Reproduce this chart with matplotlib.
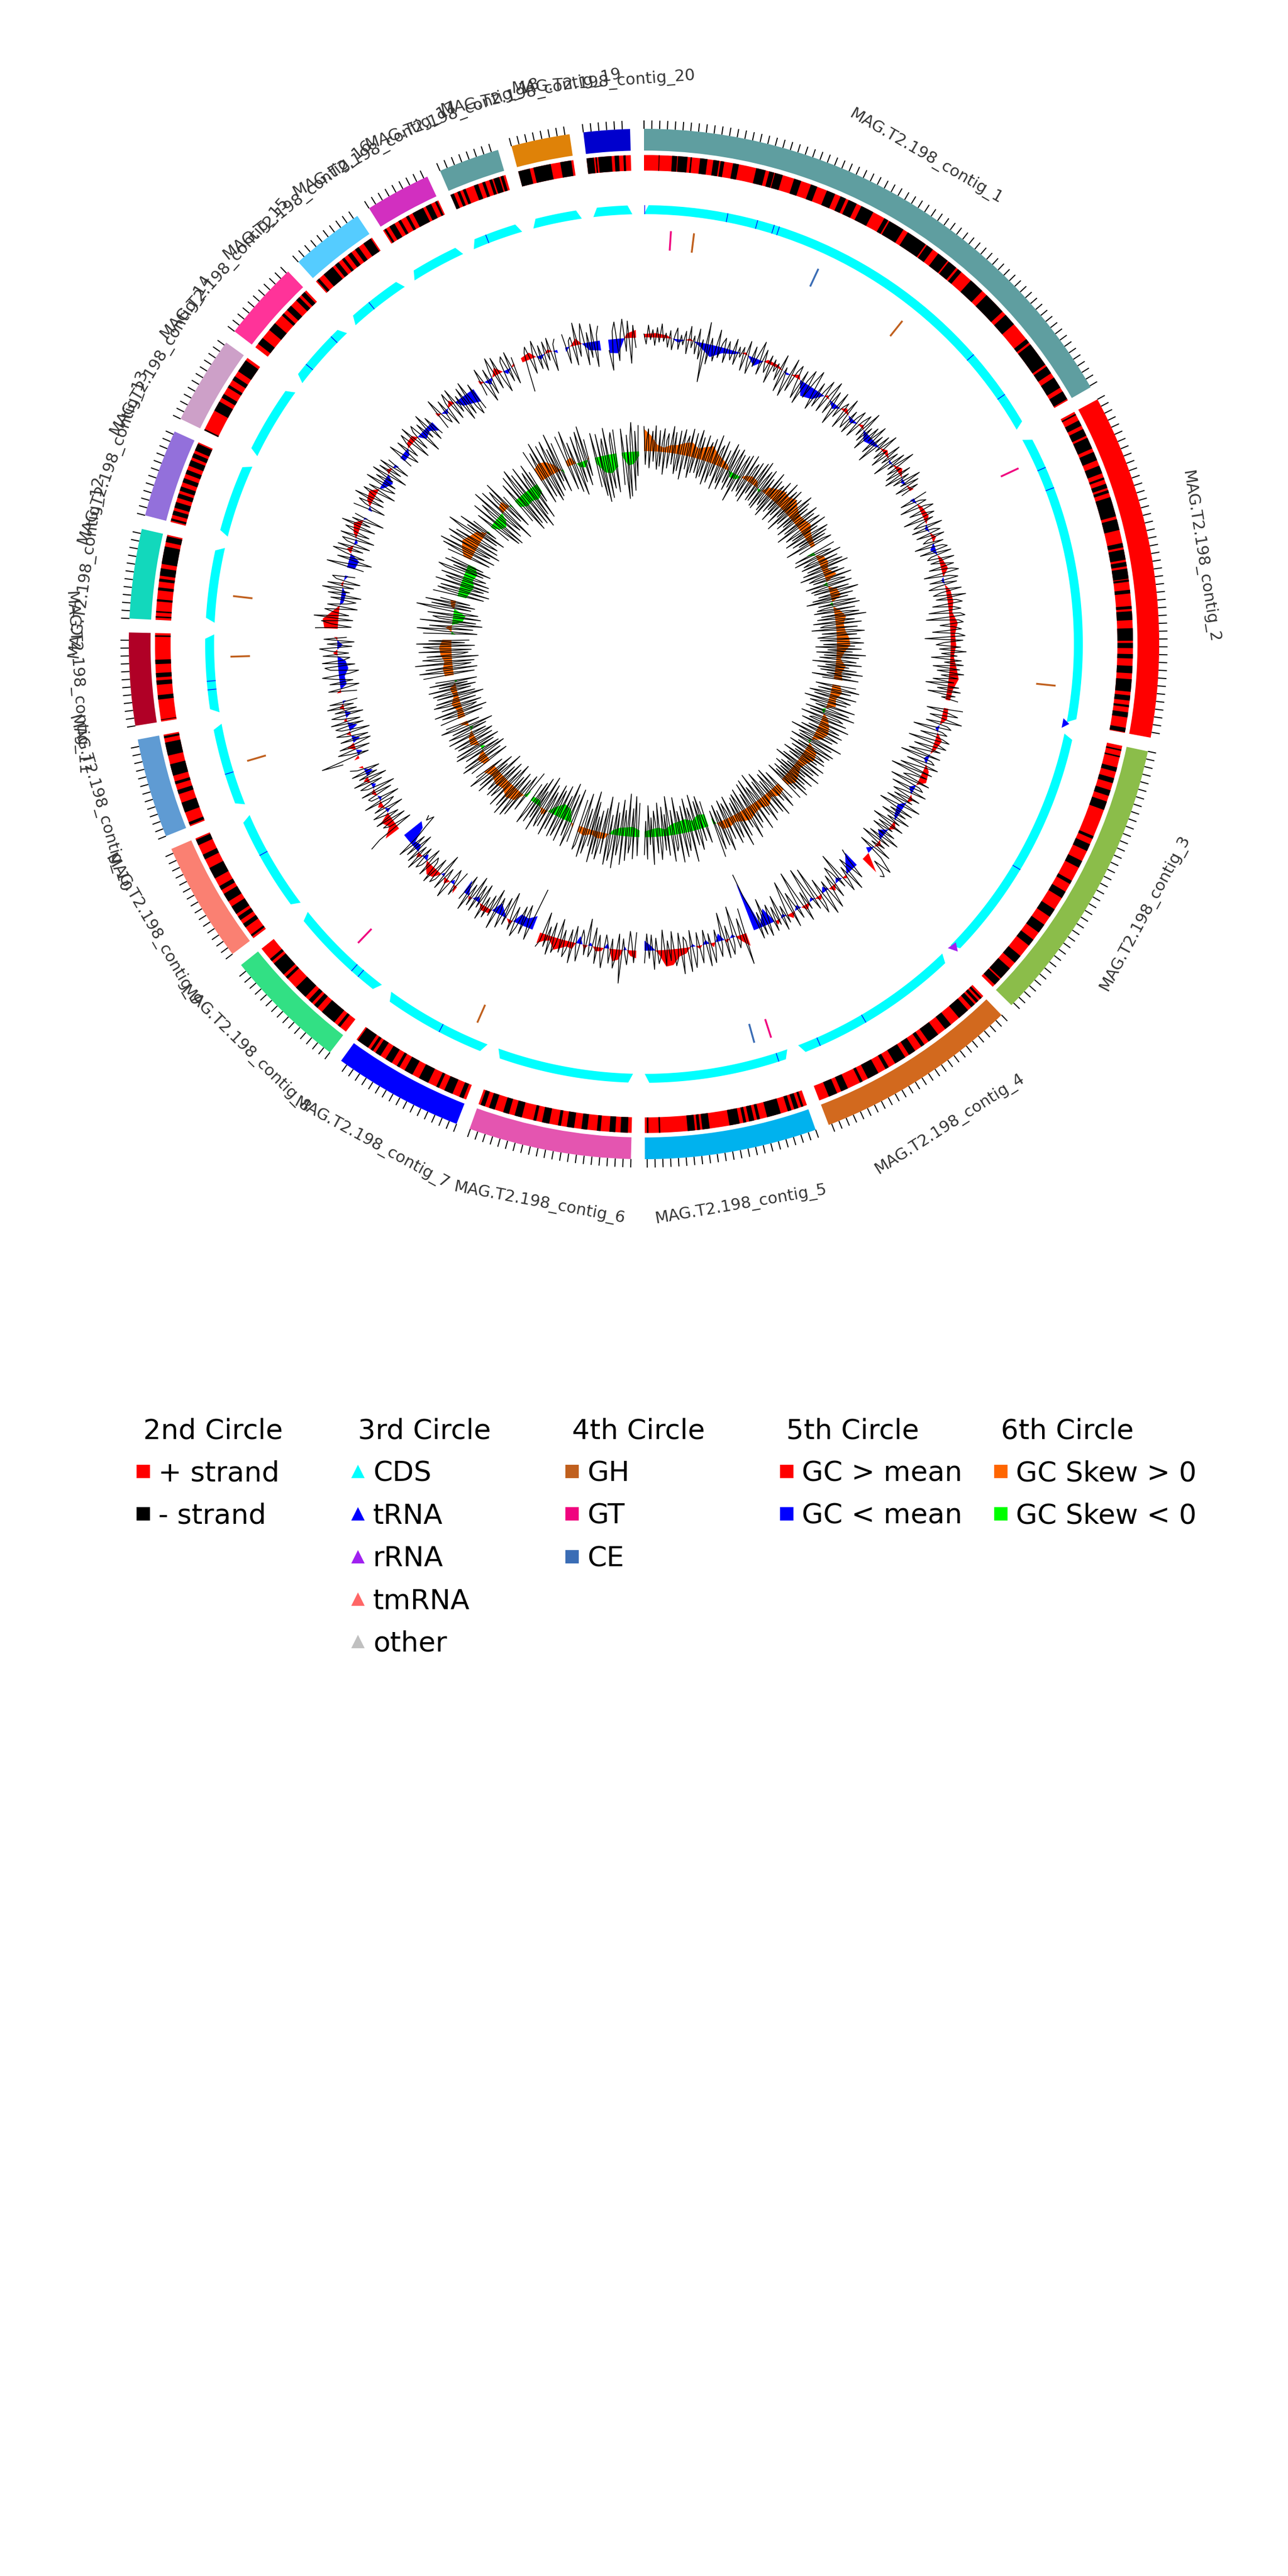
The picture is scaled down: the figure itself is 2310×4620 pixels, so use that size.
import numpy as np
import matplotlib
matplotlib.use('Agg')
import matplotlib.pyplot as plt
from matplotlib.lines import Line2D

# Contigs: length in kb and outer ring colour
contig_names = ['MAG.T2.198_contig_%d' % i for i in range(1, 21)]
contig_kb = [692, 447, 374, 264, 223, 211, 169, 160, 156, 129,
             120, 116, 114, 114, 103, 96, 85, 79, 76, 60]
contig_colors = ['#5F9EA0', '#FF0000', '#8BBD4A', '#D2691E', '#00B2EE', '#E455B0', '#0000FF', '#32E084',
                 '#FA8072', '#5F9BD3', '#B00026', '#12D8BC', '#9370DB', '#CDA0C8', '#FF3399', '#55CCFF',
                 '#D22FC0', '#5F9EA0', '#DF8208', '#0000CD']

# 2nd circle: minus strand genes (start, end in kb) per contig, the rest is + strand
minus_c1 = [(20, 21), (38, 45), (46, 59), (63, 65), (76, 86), (94, 102), (104, 109), (121, 129), (153, 166), (171, 178),
            (179, 190), (206, 216), (230, 239), (253, 265), (273, 281), (285, 297), (304, 322), (339, 345), (347, 369),
            (376, 405), (407, 417), (426, 442), (444, 457), (460, 466), (483, 504), (512, 543), (549, 566), (592, 598),
            (601, 635), (638, 649), (656, 672), (678, 690)]
minus_c2 = [(3, 5), (13, 21), (26, 36), (39, 55), (60, 72), (80, 91), (97, 100), (106, 112), (115, 119), (125, 152),
            (156, 171), (189, 195), (198, 212), (215, 221), (224, 238), (239, 242), (253, 258), (275, 279), (282, 294),
            (305, 322), (325, 332), (340, 346), (356, 366), (374, 391), (396, 403), (409, 412), (419, 426), (440, 446)]
minus_c3 = [(5, 7), (14, 16), (30, 36), (45, 52), (62, 70), (78, 90), (128, 132), (140, 150), (165, 175), (195, 200),
            (212, 222), (240, 252), (265, 278), (290, 300), (318, 330), (340, 358), (360, 370)]
minus_c4 = [(3, 6), (9, 13), (16, 22), (28, 44), (58, 68), (80, 96), (103, 108), (118, 128), (134, 150), (160, 165),
            (176, 192), (200, 204), (222, 232), (238, 250)]
minus_c5 = [(5, 8), (12, 18), (22, 27), (37, 56), (66, 70), (74, 81), (85, 89), (94, 108), (135, 145), (148, 152),
            (155, 165), (202, 204), (218, 220)]
minus_c6 = [(5, 15), (22, 30), (42, 47), (60, 68), (78, 88), (96, 100), (112, 122), (130, 134), (150, 160), (168, 176),
            (188, 196), (202, 208)]
minus_c7 = [(4, 10), (20, 32), (40, 44), (56, 70), (80, 92), (100, 104), (112, 122), (130, 138), (142, 146), (150, 167)]
minus_c8 = [(10, 14), (20, 42), (50, 56), (60, 66), (72, 90), (106, 110), (114, 134), (138, 142)]
minus_c9 = [(3, 6), (18, 24), (30, 36), (40, 52), (60, 72), (78, 84), (96, 112), (125, 132), (146, 154)]
minus_c10 = [(2, 6), (20, 34), (46, 52), (60, 64), (72, 88), (100, 118), (124, 127)]
minus_c11 = [(2, 3), (30, 36), (50, 56), (60, 66), (78, 84), (115, 117)]
minus_c12 = [(3, 5), (10, 12), (25, 28), (40, 44), (52, 56), (60, 70), (76, 100), (106, 114)]
minus_c13 = [(2, 5), (10, 16), (20, 28), (34, 40), (44, 50), (56, 62), (68, 74), (80, 88), (92, 98), (102, 112)]
minus_c14 = [(0, 2), (30, 44), (50, 56), (66, 70), (78, 84), (92, 110)]
minus_c15 = [(6, 16), (30, 42), (56, 60), (66, 74), (84, 90), (94, 100)]
minus_c16 = [(2, 6), (14, 30), (34, 40), (46, 50), (56, 62), (68, 74), (82, 94)]
minus_c17 = [(2, 5), (10, 18), (24, 28), (36, 40), (46, 62), (66, 74), (80, 83)]
minus_c18 = [(0, 5), (10, 14), (18, 22), (34, 40), (46, 50), (56, 60), (62, 70), (72, 76)]
minus_c19 = [(0, 16), (21, 45), (58, 73)]
minus_c20 = [(0, 10), (12, 14), (16, 34), (38, 44), (50, 53)]
minus_strand = [minus_c1, minus_c2, minus_c3, minus_c4, minus_c5, minus_c6, minus_c7, minus_c8, minus_c9, minus_c10,
                minus_c11, minus_c12, minus_c13, minus_c14, minus_c15, minus_c16, minus_c17, minus_c18, minus_c19, minus_c20]

# 3rd circle: tRNA positions (contig index, kb)
trna_contig = [0, 0, 0, 0, 0, 0, 0, 1, 1, 2, 3, 3, 4, 6, 7, 7, 8, 9, 10, 10, 14, 14, 15, 17]
trna_kb = [1, 127, 173, 199, 207, 561, 637, 53, 86, 218, 156, 233, 18, 75, 36, 49, 94, 53, 36, 49, 26, 82, 38, 25]

# 3rd circle: the two big arrows, tRNA on contig 2 and rRNA on contig 3
arrow_trna_kb = [442, 449, 457]
arrow_rrna_kb = [365, 373, 380]

# 4th circle: CAZymes (contig index, kb, family)
cazy_contig = [0, 0, 0, 0, 1, 1, 4, 4, 6, 7, 9, 10, 11]
cazy_kb = [43, 80, 287, 445, 37, 393, 18, 46, 28, 71, 63, 85, 44]
cazy_family = ['GT', 'GH', 'CE', 'GH', 'GT', 'GH', 'GT', 'CE', 'GH', 'GT', 'GH', 'GH', 'GH']

# 5th circle: GC content deviation, fine windows
gc_c1 = [6, -12, 22, -4, 14, -14, 18, -8, 25, -6, 9, -16, 14, -20, 5, 20, -18, 8, -9, 16, -24, 26, -12, 10, -22, 24, -30, 6,
         -70, 39, -36, 12, -10, -28, 30, -20, 7, 18, -26, 14, -6, -18, 22, -24, 10, -8, 12, -30, 26, -11, -32, 20, -16, 9, 34,
         -26, 22, -5, -18, 16, -34, 12, -9, 8, -22, 28, -40, 8, -14, -44, 30, -30, 10, 24, -12, -36, 20, -42, 6, 28, -24, 12,
         34, -10, -38, 18, -28, 7, 30, -30, 11, 36, -26, 22, -8, -40, 28, -20, 5, 16, -34, 30, -13, -26, 14, -30, 8, 24, -28,
         10, 26, -16, 38, -22, 12, -34, 20, -8, 30, -28, 16, -42, 24, -10, 34, -20, 6, -30, 28, -14, 18, -36, 26, -12, 40, -18,
         8, -26, 22, -32, 14, -20, 32, -10, 24, -24, 18, -16]
gc_c2 = [24, -28, 8, 18, -34, 12, 26, -22, 6, 22, -38, 16, -10, -24, 28, -30, 9, 20, -26, 24, -8, -18, 18, -36, 14, 22, -30,
         26, -12, -20, 28, -16, 6, 24, -22, 18, 30, -34, 12, 26, -26, 22, -14, -30, 28, -10, -24, 34, -20, 16, 26, -28, 10, 22,
         -36, 20, 28, -42, 16, 24, -18, 8, 20, -32, 14, 26, -46, 22, -12, -26, 18, -20, 28, -16, 12, -34, 20, -10, 24, -30, 18,
         -22, 26, -14, 16, -28, 10, -40, 20, -18, 24, -34, 16, -8, 22]
gc_c3 = [34, -30, 10, 28, -22, 6, 38, -26, 14, 22, -46, 8, 18, -30, 12, 26, -48, 9, 24, -34, 16, -12, -40, 20, -52, 7, 14, -36,
         24, -10, -44, 18, -58, 12, -18, -30, 22, -50, 8, 16, -42, 26, -14, -34, 20, -28, 10, -38, 30, -12, -46, 22, -20, 14,
         -32, 26, -16, 12, -40, 24, -24, 8, -30, 18, -14, 32, -26, 20, -36, 16, -10, 34, -28, 22, 36, 52, 18, 40, 50, 44]
gc_c4 = [-37, -20, 22, -8, -28, 36, -16, 12, 30, -52, 14, -20, -34, 26, -22, 9, 40, -18, 10, 44, -30, 18, 34, -60, 20, -14, -66,
         12, -24, 30, -16, -70, 18, -10, -36, 28, -62, -30, 14, -20, 24, -44, 10, -26, 18, -34, -12, 22, -50, 16, -28, 20, -40,
         -62, -106]
gc_c5 = [-46, 56, -30, 10, 22, -56, 14, 30, -24, 34, -50, 8, 28, -22, 12, 36, -18, 40, -26, 6, 32, -24, 16, 38, -30, 44, -12, -20,
         46, -28, 18, 30, -32, 20, -16, 28, -36, 10, 24, -22, 34, -28, 14, -30, 22]
gc_c6 = [-32, 22, -12, -34, 26, 8, -20, 60, -28, 14, 34, -18, 26, -10, -24, 36, 12, -22, 30, -34, 6, 20, -48, 18, -14, -26, 32, 10,
         -30, 38, -22, 16, 30, -18, 24, -36, 12, 28, -26, 34, -16, 22, -40, 14, 26]
gc_c7 = [-76, -30, 22, -10, -40, 16, -34, 8, 26, -28, 18, -14, -50, 14, -36, 24, -8, -30, 32, -42, 12, -26, 20, -18, 28, -38, 10,
         -32, 22, -44, 16, -24, 30, -36, 14]
gc_c8 = [-30, 20, -12, -28, 34, 8, -20, 26, -42, 14, 24, -24, 30, -10, -18, 26, -28, 12, 22, -20, 32, -16, 24, -34, 18, -26, 28,
         -20, -40, -62, -48, -56]
gc_c9 = [61, 40, -30, 12, 22, -26, 30, -18, 8, 28, -34, 20, -12, -24, 32, -38, 14, 18, -30, 26, -40, 10, 22, -22, 30, -34, 16,
         -20, 26, -28, 12, 24]
gc_c10 = [32, 70, -20, 12, 34, -26, 28, -10, -32, 22, -30, 8, 26, -36, 14, 24, -28, 30, -24, 10, 26, -32, 18, -22, 30, -18, 24, -26]
gc_c11 = [-28, 22, -12, -34, 18, -24, 8, 30, -20, -36, 14, 24, -30, 28, -10, -22, 26, -20, 12, 32, -26, 18, -30, 24, -16]
gc_c12 = [40, -24, 12, 30, -26, 44, -18, 8, 26, -32, 22, -12, -28, 18, -36, 24, -14, 36, -20, 28, -30, 14, 22, -18]
gc_c13 = [-30, 38, -12, -42, 22, -26, 10, 34, -20, 28, -30, 14, 24, -34, 30, -22, 8, 26, -28, 36, -16, 20, -38, 18]
gc_c14 = [28, -30, 10, 24, -22, 36, -18, 8, 26, -34, 20, -12, -28, 32, -24, 18, -14, 30, -36, 22, -20, 26, -30, 14]
gc_c15 = [-24, 26, -10, -30, 20, -22, 8, 24, -36, 30, -26, 12, 22, -42, 16, -20, 28, -32, 14, -26]
gc_c16 = [-26, 32, -12, -24, 20, -34, 10, 26, -30, 28, -22, 8, -44, 18, -38, 24, -30, -46, 12, -40]
gc_c17 = [-22, 28, -10, -40, 20, -30, 12, 36, -26, 32, -14, -38, 18, 26, -24, 30, -32, 16]
gc_c18 = [-56, -20, 14, 24, -28, 8, 30, -24, 18, -30, 22, -14, 26, -36, 12, 20]
gc_c19 = [24, -30, 10, 16, -36, 40, -22, 14, 36, -40, 18, -28, 32, -46, 12, 26]
gc_c20 = [-20, -56, 14, 30, -40, 8, 34, -24, 30, -46, 22, -18]
gc_lines = [gc_c1, gc_c2, gc_c3, gc_c4, gc_c5, gc_c6, gc_c7, gc_c8, gc_c9, gc_c10,
            gc_c11, gc_c12, gc_c13, gc_c14, gc_c15, gc_c16, gc_c17, gc_c18, gc_c19, gc_c20]

# 5th circle: GC content deviation, coarse windows (filled)
gc_fill = [[6, 8, 5, -6, 4, -8, -22, -10, -6, 4, -14, 6, 5, -4, 8, -24, -18, 5, -10, 8, -8, 6, -14, -6, 8, -4, 10, -6, 8],
           [-8, 6, 10, -6, 8, -10, 6, 12, -5, 8, 10, 6, 14, 8, 10, 6, 12, 18, 10, 8],
           [8, 10, -6, 12, 6, -8, 10, 14, -10, 8, -12, -6, 10, -14, 8, -10, 34],
           [-30, -14, 6, -8, 10, -10, 8, -6, 10, -8, 10, -6, 8, -30, -6, -90],
           [24, 10, -6, 6, -14, 8, -8, 6, -5, 10, 14, 28, 30, 6, -8, -18],
           [14, 10, -6, 18, 22, -10, 6, 8, -6, 8, -14, 12, 10, 16, 22, 8, 12, 20],
           [-26, -16, -18, 8, -6, -20, 8, 10, -10, 6, -26],
           [14, -8, 10, -6, 14, 18, 8, -10, 10, -12, -8, -34, -40],
           [30, 12, 20, -8, 10, -6, 8, -8, 10, -14, 8],
           [10, -10, 14, -14, 8, -16, 6, -10, 8, -6],
           [8, -12, -10, -18, -14, 8, -10, 6],
           [24, 28, 10, -6, -8, 4, -6],
           [-14, -18, 10, -6, 8, 14, -6],
           [-8, 10, 14, -6, -16, 8, -8],
           [-10, -10, 8, 10, -14, -8, -20],
           [8, -8, 10, -14, -20, -26],
           [8, -10, 14, -8, 6],
           [8, 12, -8, 6, -6],
           [-8, 12, -14, -18],
           [-24, -26, 8, 14]]

# 6th circle: GC skew, fine windows
sk_c1 = [44, -24, 20, 40, -30, 12, 36, -18, 46, -10, -32, 38, -26, 16, 42, -40, 22, 34, -28, 10, 48, -20, 38, -14, -36, 42, -30,
         18, 46, -44, 24, 36, -24, 50, -12, -38, 44, -28, 14, 52, -26, 40, -16, -34, 46, -30, 20, 36, -42, 44, -10, -36, 54, -22,
         28, 38, -44, 48, -18, -30, 34, -40, 12, 50, -24, 42, -36, 22, 46, -28, 38, -52, 16, 40, -30, 44, -14, -26, 48, -34, 26,
         36, -40, 42, -20, 10, 46, -30, 52, -28, 18, 38, -34, 44, -36, 30, -12, -24, 48, -32, 36, -40, 20, 32, -26, 44, -18, 28,
         -38, 50, -22, 14, 40, -34, 46, -16, 30, -42, 36, -24, 18, 52, -30, 42, -20, 34, -36, 12, 48, -26, 38, -44, 24, 44, -14,
         -32, 50, -22, 30, -38, 16, 46, -28, 40, -18, 34, -46, 26, 42, -24]
sk_c2 = [40, -38, 16, 30, -42, 46, -14, -28, 36, -34, 20, 42, -26, 50, -36, 12, 28, -44, 38, -18, -30, 48, -24, 24, 34, -40, 44,
         -12, -32, 36, -28, 52, 18, -22, 40, -34, 30, -46, 14, 42, -26, 48, -16, -30, 38, -36, 22, 44, -24, 56, -32, 10, 34, -40,
         46, -20, -28, 38, -44, 26, 50, -26, 36, -14, -34, 42, -30, 18, 48, -24, 32, -38, 44, -16, 28, -36, 52, -22, 40, -30, 12,
         36, -42, 46, -18, 24, -32, 38, -26, 50, -14, 30, -40, 44, -20]
sk_c3 = [42, -30, 16, 50, -24, 36, -10, -38, 48, -28, 22, 40, -44, 34, -14, -32, 52, -20, 12, 44, -36, 56, -26, 28, 38, -40, 46,
         -16, -22, 54, -34, 18, 40, -18, 48, -30, 24, 44, -46, 36, -12, -28, 58, -24, 42, -38, 14, 50, -20, 46, -34, 26, 40, -26,
         44, -16, 32, -36, 50, -22, 18, 46, -30, 38, -42, 54, -14, 28, -24, 48, -32, 36, -18, 44, -28, 52, -20, 30, -34, 46]
sk_c4 = [36, -28, 14, 48, -40, 30, -10, -36, 54, -24, 44, -18, -46, 40, -32, 20, 50, -52, 34, -14, -30, 56, -48, 12, 38, -44, 46,
         -26, 24, 60, -40, 36, -16, -34, 48, -30, 64, -22, 18, 44, -38, 52, -12, -28, 40, -36, 26, 58, -20, 46, -32, 16, 50, -24, 62]
sk_c5 = [-46, 30, -14, -58, 24, -50, 12, 38, -64, 28, -20, -42, 56, -60, 16, 34, -48, 44, -10, -40, 52, -66, 22, 30, -44, 48, -16,
         -70, 36, -38, 26, -52, 18, 42, -60, 30, -24, -46, 50, -34, 14, -56, 40, -28, 32]
sk_c6 = [-60, 34, -18, -72, 40, -50, 14, 30, -76, 44, -22, -46, 52, -64, 10, 36, -40, 60, -58, 26, 48, -34, 56, -16, -66, 38, -44,
         20, 50, -38, 42, -26, 58, -52, 30, -70, 16, 46, -36, 54, -20, -62, 34, 44, -48]
sk_c7 = [34, -64, 16, 46, -52, 28, -18, -70, 42, -44, 12, 36, -60, 40, -24, -48, 30, -56, 44, -14, -38, 32, -50, 36, 20, -62, 48,
         -30, 26, -54, 38, -42, 18, 46, -34]
sk_c8 = [-52, 30, -14, -40, 48, -28, 54, 18, -36, 58, -24, 46, -12, -44, 52, -30, 22, 40, -38, 44, -26, 36, 14, -46, 50, -20, 42,
         -34, 28, 56, -18, 38]
sk_c9 = [40, -38, 16, 52, -30, 44, -12, -42, 36, -34, 22, 50, -28, 46, -40, 14, 38, -32, 42, -18, -36, 48, -26, 20, 44, -30, 34,
         -44, 26, 52, -22, 40]
sk_c10 = [46, -34, 14, 40, -44, 52, -18, -28, 36, -38, 24, 48, -30, 42, -12, -46, 38, -32, 44, 16, -26, 50, -36, 30, -22, 46, -40, 34]
sk_c11 = [54, -38, 20, 60, -44, 48, -14, -34, 66, -40, 26, 52, -48, 44, -18, -30, 58, -36, 30, 50, -42, 62, -24, 40, -32]
sk_c12 = [50, -46, 18, 62, -38, 40, -14, -54, 58, -42, 24, 36, -50, 46, -20, -44, 34, 68, -30, 42, -36, 54, -26, 28]
sk_c13 = [44, -48, 16, 38, -56, 34, -20, -44, 46, -52, 12, 30, -50, 40, -26, -42, 36, 50, -34, 24, -46, 42, -30, 32]
sk_c14 = [44, -36, 18, 58, -42, 66, -12, -30, 52, -46, 24, 60, -38, 48, -16, -34, 42, 70, -28, 36, -40, 54, -20, 30]
sk_c15 = [-40, 30, -16, -58, 46, -62, 14, 36, -52, 58, -22, -44, 50, -66, 24, 42, -34, 54, -48, 18]
sk_c16 = [-48, 34, -14, -72, 44, -62, 20, 52, -68, 38, -26, -78, 46, -56, 12, 30, -66, 42, -36, 24]
sk_c17 = [60, -46, 22, 52, -38, 68, -14, -50, 58, -44, 30, 62, -36, 44, -20, 70, -42, 50]
sk_c18 = [58, -44, 20, 64, -52, 40, -16, -60, 48, -38, 26, 54, -46, 62, -30, 36]
sk_c19 = [-54, 44, -20, -72, 40, -84, 16, 30, -78, 48, -34, -62, 26, 38, -70, 42]
sk_c20 = [-58, 42, -18, -84, 30, -80, 24, 52, -70, 36, -44, 46]
sk_lines = [sk_c1, sk_c2, sk_c3, sk_c4, sk_c5, sk_c6, sk_c7, sk_c8, sk_c9, sk_c10,
            sk_c11, sk_c12, sk_c13, sk_c14, sk_c15, sk_c16, sk_c17, sk_c18, sk_c19, sk_c20]

# 6th circle: GC skew, coarse windows (filled)
sk_fill = [[40, 28, 12, 8, 14, 16, 22, 26, 18, 24, 30, 20, 14, 8, -10, -8, 6, 12, 10, -6, 14, 20, 26, 24, 30, 22, 16, 18, 22, 14, 10, 8],
           [-14, 12, 16, 10, 22, -8, 14, 18, -6, 10, 20, 14, 16, 22, 24, 14, 8, 18, 12, 16],
           [14, 20, 12, 16, -8, 10, 18, 22, 16, -6, 20, 24, 16, 12, 18, 22, 14],
           [14, 18, 10, 20, 14, 16, 22, 18, 12, 16, 14, -12],
           [-22, -26, -18, -24, -22, -20, -12, -16, -14, -10],
           [-12, -18, -16, -14, -8, 10, 12, 8, 14, 10],
           [10, -22, -26, -12, 12, -10, -8],
           [-14, 18, 24, 16, 20, 14, 22],
           [12, 18, -8, 14, 10, -6, 16],
           [14, 10, 16, 8, 12, -6],
           [16, 18, 14, 20, 22, 16],
           [-8, 12, -18, -22, 6, 10],
           [-16, -20, -24, -18, -22, -14],
           [14, 24, 30, 22, 16, -6],
           [-6, -18, -22, -14, 12, 16, -10],
           [-14, -22, -20, -24, -16],
           [24, 30, 26, 14, -8],
           [10, 14, -8, -12, 6],
           [-10, -30, -34, -24],
           [-6, -24, -22, -8]]

# Legend entries
legend_titles = ['2nd Circle', '3rd Circle', '4th Circle', '5th Circle', '6th Circle']
legend_labels = [['+ strand', '- strand'],
                 ['CDS', 'tRNA', 'rRNA', 'tmRNA', 'other'],
                 ['GH', 'GT', 'CE'],
                 ['GC > mean', 'GC < mean'],
                 ['GC Skew > 0', 'GC Skew < 0']]
legend_colors = [['#FF0000', '#000000'],
                 ['#00FFFF', '#0000FF', '#A020F0', '#FF6666', '#C0C0C0'],
                 ['#C0601E', '#F0047F', '#3B6DB5'],
                 ['#FF0000', '#0000FF'],
                 ['#FF6600', '#00FF00']]
legend_markers = ['s', '^', 's', 's', 's']
cazy_colors = {'GH': '#C0601E', 'GT': '#F0047F', 'CE': '#3B6DB5'}

# Radii in pixels, the axes is 2310 px wide so r = 1155 is the axes edge
R_TICK = 939
R_OUTER = 924
R_OUTER_IN = 885
R_STRAND = 877
R_STRAND_IN = 849
R_CDS = 787
R_CDS_IN = 771
R_CAZY = 742
R_CAZY_IN = 707
R_GC = 550
R_SKEW = 346
GAP_DEG = 1.55
DEG_PER_KB = (360 - 20 * GAP_DEG) / sum(contig_kb)


def contig_start(i):
    return sum(contig_kb[:i]) * DEG_PER_KB + i * GAP_DEG


def to_theta(i, kb):
    return np.radians(contig_start(i) + np.asarray(kb, dtype=float) * DEG_PER_KB)


def fill_track(ax, theta, vals, base, pos_color, neg_color):
    vals = np.asarray(vals, dtype=float)
    ax.fill_between(theta, base, base + vals, where=vals >= 0, interpolate=True, color=pos_color, lw=0, zorder=2)
    ax.fill_between(theta, base, base + vals, where=vals <= 0, interpolate=True, color=neg_color, lw=0, zorder=2)


fig = plt.figure(figsize=(7.7, 15.4), dpi=300)
ax = fig.add_axes([0, 0.5, 1, 0.5], projection='polar')
ax.set_theta_zero_location('N')
ax.set_theta_direction(-1)
ax.set_ylim(0, 1155)
ax.axis('off')

for i, length in enumerate(contig_kb):
    t0 = to_theta(i, 0)
    t1 = to_theta(i, length)
    mid = (t0 + t1) / 2
    width = t1 - t0

    # outer ring, ticks and label
    ax.bar(mid, R_OUTER - R_OUTER_IN, width=width, bottom=R_OUTER_IN, color=contig_colors[i], lw=0)
    ax.vlines(to_theta(i, np.arange(0, length, 10)), R_OUTER, R_TICK, color='black', lw=0.45)
    deg = np.degrees(mid)
    rot = 180 - deg if 90 < deg < 270 else -deg
    r_label = 1020 if 90 < deg < 270 else 1010
    ax.text(mid, r_label, contig_names[i], rotation=rot, rotation_mode='anchor', ha='center', va='center',
            fontsize=6.9, color='#333333')

    # 2nd circle, strands
    ax.bar(mid, R_STRAND - R_STRAND_IN, width=width, bottom=R_STRAND_IN, color='#FF0000', lw=0)
    for s, e in minus_strand[i]:
        ts, te = to_theta(i, s), to_theta(i, e)
        ax.bar((ts + te) / 2, R_STRAND - R_STRAND_IN, width=te - ts, bottom=R_STRAND_IN, color='black', lw=0)

    # 3rd circle, CDS band, outer edge a bit shorter than the inner one
    trim = np.radians(0.6)
    th = np.linspace(t0, t1, 40)
    th_out = np.linspace(t0 + trim, t1 - trim, 40)
    ax.fill(np.r_[th, th_out[::-1]], np.r_[np.full(40, R_CDS_IN), np.full(40, R_CDS)], color='#00FFFF', lw=0)

    # 5th circle, GC content
    fill_vals = gc_fill[i]
    fill_track(ax, np.linspace(t0, t1, len(fill_vals)), fill_vals, R_GC, '#FF0000', '#0000FF')
    line_vals = np.array(gc_lines[i])
    ax.plot(np.linspace(t0, t1, len(line_vals)), R_GC + line_vals, color='black', lw=0.35, zorder=3)

    # 6th circle, GC skew
    fill_vals = sk_fill[i]
    fill_track(ax, np.linspace(t0, t1, len(fill_vals)), fill_vals, R_SKEW, '#FF6600', '#00FF00')
    line_vals = np.array(sk_lines[i])
    ax.plot(np.linspace(t0, t1, len(line_vals)), R_SKEW + line_vals, color='black', lw=0.35, zorder=3)

# tRNA ticks in the CDS band
for c, kb in zip(trna_contig, trna_kb):
    ax.vlines(to_theta(c, kb), R_CDS_IN, R_CDS, color='#0000FF', lw=0.3)

# the two big arrows
ax.fill(to_theta(1, arrow_trna_kb), [764, 776, 764], color='#0000FF', lw=0)
ax.fill(to_theta(2, arrow_rrna_kb), [774, 788, 771], color='#A020F0', lw=0)

# CAZymes
for c, kb, fam in zip(cazy_contig, cazy_kb, cazy_family):
    ax.vlines(to_theta(c, kb), R_CAZY_IN, R_CAZY, color=cazy_colors[fam], lw=0.8)

# Legends
for n, title in enumerate(legend_titles):
    handles = [Line2D([], [], linestyle='none', marker=legend_markers[n], color=col, markeredgewidth=0, markersize=5.6)
               for col in legend_colors[n]]
    x = (257 + 384.5 * n) / 2310
    y = 1 - 2542 / 4620
    fig.legend(handles, legend_labels[n], title=title, loc='upper left', bbox_to_anchor=(x, y), borderaxespad=0,
               borderpad=0, frameon=False, fontsize=11.95, title_fontsize=11.95, alignment='left', handlelength=0,
               handletextpad=0.55, labelspacing=0.57)

fig.savefig('out.png', dpi=300)
